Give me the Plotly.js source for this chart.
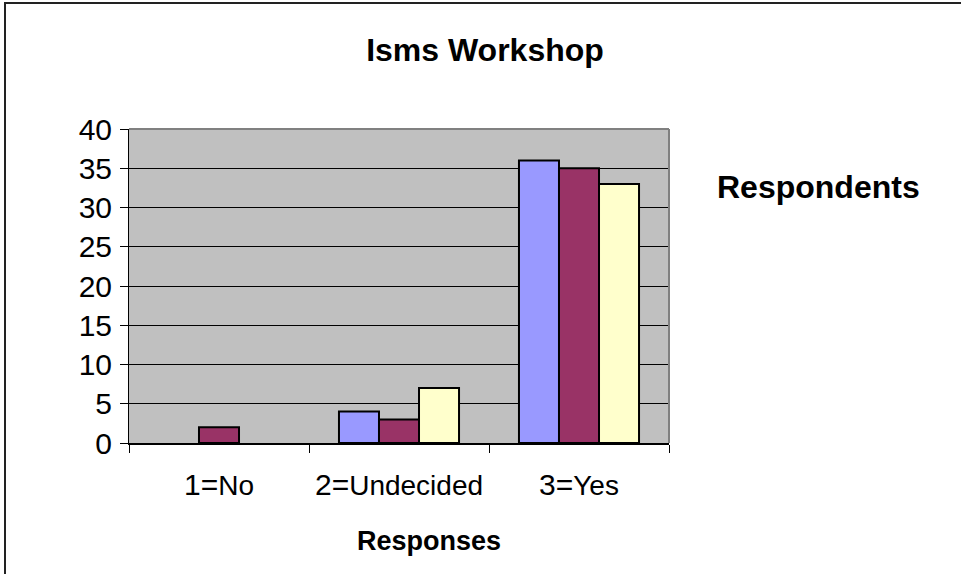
<!DOCTYPE html>
<html>
<head>
<meta charset="utf-8">
<script src="https://cdn.plot.ly/plotly-3.0.1.min.js"></script>
<style>
  html, body { margin: 0; padding: 0; background: #fff; overflow: hidden; }
  #frame { position: absolute; left: 4px; top: 2px; width: 2000px; height: 2000px;
           border-left: 2px solid #222; border-top: 2px solid #222; pointer-events: none; z-index: 5; }
  #chart { position: absolute; left: 0; top: 0; width: 961px; height: 574px; }
</style>
</head>
<body>
<div id="chart"></div>
<div id="frame"></div>
<script>
// ---- data ----
var categories = ['1=No', '2=Undecided', '3=Yes'];
var tickLabels = ['1=<span style="font-size:28px">No</span>',
                  '2=<span style="font-size:28px">Undecided</span>',
                  '3=<span style="font-size:28px">Yes</span>'];
var seriesA = [0, 4, 36];
var seriesB = [2, 3, 35];
var seriesC = [0, 7, 33];
var seriesColors = ['#9999ff', '#993366', '#ffffcc'];
var chartTitle = 'Isms Workshop';
var legendTitle = 'Respondents';
var xTitle = 'Responses';

var FONT = 'Liberation Sans, Arial, sans-serif';

function bar(vals, color) {
  return {
    type: 'bar', x: categories, y: vals,
    marker: { color: color, line: { color: '#000', width: vals.map(function (v) { return v === 0 ? 0 : 2; }) } },
    hoverinfo: 'y'
  };
}

var data = [bar(seriesA, seriesColors[0]), bar(seriesB, seriesColors[1]), bar(seriesC, seriesColors[2])];

var layout = {
  width: 961, height: 574,
  margin: { l: 129, r: 292, t: 129, b: 131, pad: 0 },
  paper_bgcolor: '#ffffff',
  plot_bgcolor: '#c0c0c0',
  showlegend: false,
  barmode: 'group',
  bargap: 0.333,
  bargroupgap: 0,
  font: { family: FONT, color: '#000' },
  title: {
    text: '<b>' + chartTitle + '</b>',
    font: { family: FONT, size: 32, color: '#000' },
    xref: 'container', yref: 'container',
    x: 485 / 961, xanchor: 'center',
    y: 1 - 50 / 574, yanchor: 'middle'
  },
  xaxis: {
    type: 'category',
    tickvals: categories,
    ticktext: tickLabels,
    tickfont: { family: FONT, size: 30, color: '#000' },
    ticks: 'outside', ticklen: 8, tickwidth: 1, tickcolor: '#000',
    tickson: 'boundaries',
    showline: true, linecolor: '#000', linewidth: 2,
    showgrid: false, zeroline: false,
    ticklabelstandoff: 14,
    fixedrange: true
  },
  yaxis: {
    range: [0, 40], dtick: 5, tick0: 0,
    tickfont: { family: FONT, size: 30, color: '#000' },
    ticks: 'outside', ticklen: 8, tickwidth: 1, tickcolor: '#000',
    showline: true, linecolor: '#000', linewidth: 1,
    showgrid: true, gridcolor: '#000', gridwidth: 1,
    zeroline: false,
    ticklabelstandoff: 2,
    fixedrange: true
  },
  shapes: [
    { type: 'line', xref: 'paper', yref: 'paper', x0: 0, x1: 1, y0: 1, y1: 1,
      line: { color: '#808080', width: 2 } },
    { type: 'line', xref: 'paper', yref: 'paper', x0: 1, x1: 1, y0: 0, y1: 1,
      line: { color: '#808080', width: 2 } }
  ],
  annotations: [
    { text: '<b>' + legendTitle + '</b>', xref: 'paper', yref: 'paper',
      x: (818 - 129) / 540, y: (443 - 187) / 314, xanchor: 'center', yanchor: 'middle',
      showarrow: false, font: { family: FONT, size: 32, color: '#000' } },
    { text: '<b>' + xTitle + '</b>', xref: 'paper', yref: 'paper',
      x: (429 - 129) / 540, y: (443 - 541) / 314, xanchor: 'center', yanchor: 'middle',
      showarrow: false, font: { family: FONT, size: 27, color: '#000' } }
  ]
};

Plotly.newPlot('chart', data, layout, { displayModeBar: false, staticPlot: true });
</script>
</body>
</html>
